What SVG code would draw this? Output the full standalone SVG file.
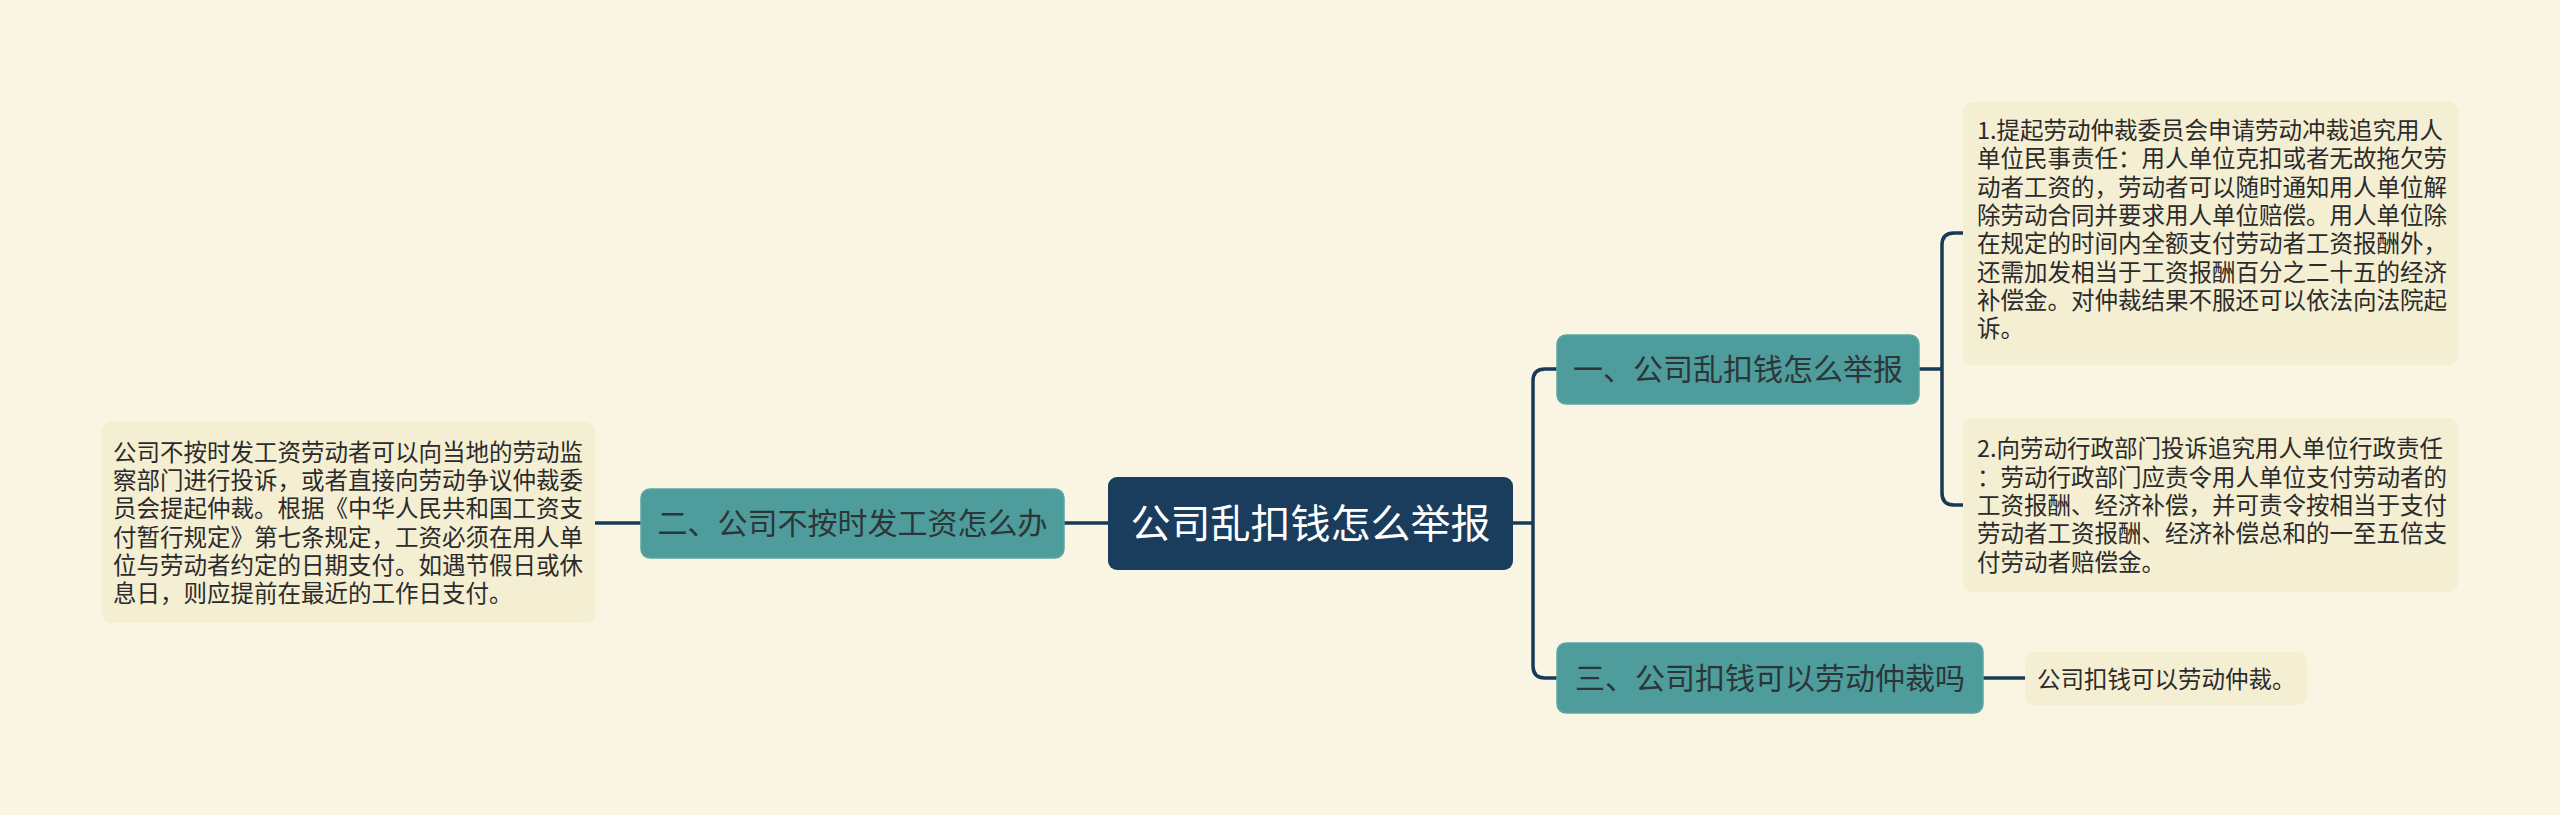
<svg xmlns="http://www.w3.org/2000/svg" width="2560" height="815" viewBox="0 0 2560 815">
<style>
text{font-family:"Noto Sans CJK SC","Noto Sans",sans-serif}
.root{fill:#1a3d5d}
.rt{fill:#ffffff;font-size:40px;text-anchor:middle}
.br{fill:#4e9c9c;stroke:#5aa6a4;stroke-width:1.5}
.bt{fill:#2c3638;font-size:30px;text-anchor:middle}
.lf{fill:#f4eed2}
.lt{fill:#2b2b2b;font-size:23.5px}
.cn{fill:none;stroke:#173a59;stroke-width:3.5;stroke-linecap:round}
</style>
<rect width="2560" height="815" fill="#faf5e2"/>
<g id="connectors">
<path class="cn" d="M1513,523 H1533 M1557,369 H1545 Q1533,369 1533,381 V666 Q1533,678 1545,678 H1557"/>
<path class="cn" d="M1919,369 H1942 M1963,233 H1954 Q1942,233 1942,245 V493 Q1942,505 1954,505 H1963"/>
<path class="cn" d="M1983,678 H2025"/>
<path class="cn" d="M1108,523 H1064 M641,523 H595"/>
</g>
<g id="root">
<rect class="root" x="1108" y="477" width="405" height="93" rx="9"/>
<text class="rt" x="1310.5" y="538">公司乱扣钱怎么举报</text>
</g>
<g id="branch1">
<rect class="br" x="1557" y="335" width="362" height="69" rx="9"/>
<text class="bt" x="1738" y="380">一、公司乱扣钱怎么举报</text>
</g>
<g id="branch2">
<rect class="br" x="641" y="489" width="423" height="69" rx="9"/>
<text class="bt" x="852.5" y="534">二、公司不按时发工资怎么办</text>
</g>
<g id="branch3">
<rect class="br" x="1557" y="643" width="426" height="70" rx="9"/>
<text class="bt" x="1770" y="689">三、公司扣钱可以劳动仲裁吗</text>
</g>
<g id="leaf1">
<rect class="lf" x="1963" y="102" width="495" height="263" rx="9"/>
<text class="lt">
<tspan x="1977" y="139">1.提起劳动仲裁委员会申请劳动冲裁追究用人</tspan>
<tspan x="1977" y="167.3">单位民事责任：用人单位克扣或者无故拖欠劳</tspan>
<tspan x="1977" y="195.6">动者工资的，劳动者可以随时通知用人单位解</tspan>
<tspan x="1977" y="223.9">除劳动合同并要求用人单位赔偿。用人单位除</tspan>
<tspan x="1977" y="252.2">在规定的时间内全额支付劳动者工资报酬外，</tspan>
<tspan x="1977" y="280.5">还需加发相当于工资报酬百分之二十五的经济</tspan>
<tspan x="1977" y="308.8">补偿金。对仲裁结果不服还可以依法向法院起</tspan>
<tspan x="1977" y="337.1">诉。</tspan>
</text>
</g>
<g id="leaf2">
<rect class="lf" x="1963" y="418" width="495" height="174" rx="9"/>
<text class="lt">
<tspan x="1977" y="457.3">2.向劳动行政部门投诉追究用人单位行政责任</tspan>
<tspan x="1977" y="485.6">：劳动行政部门应责令用人单位支付劳动者的</tspan>
<tspan x="1977" y="513.9">工资报酬、经济补偿，并可责令按相当于支付</tspan>
<tspan x="1977" y="542.2">劳动者工资报酬、经济补偿总和的一至五倍支</tspan>
<tspan x="1977" y="570.5">付劳动者赔偿金。</tspan>
</text>
</g>
<g id="leaf3">
<rect class="lf" x="2025" y="652" width="282" height="53" rx="9"/>
<text class="lt" x="2037" y="688">公司扣钱可以劳动仲裁。</text>
</g>
<g id="leaf4">
<rect class="lf" x="102" y="422" width="493" height="201" rx="9"/>
<text class="lt">
<tspan x="113" y="460.7">公司不按时发工资劳动者可以向当地的劳动监</tspan>
<tspan x="113" y="489">察部门进行投诉，或者直接向劳动争议仲裁委</tspan>
<tspan x="113" y="517.3">员会提起仲裁。根据《中华人民共和国工资支</tspan>
<tspan x="113" y="545.6">付暂行规定》第七条规定，工资必须在用人单</tspan>
<tspan x="113" y="573.9">位与劳动者约定的日期支付。如遇节假日或休</tspan>
<tspan x="113" y="602.2">息日，则应提前在最近的工作日支付。</tspan>
</text>
</g>
</svg>
